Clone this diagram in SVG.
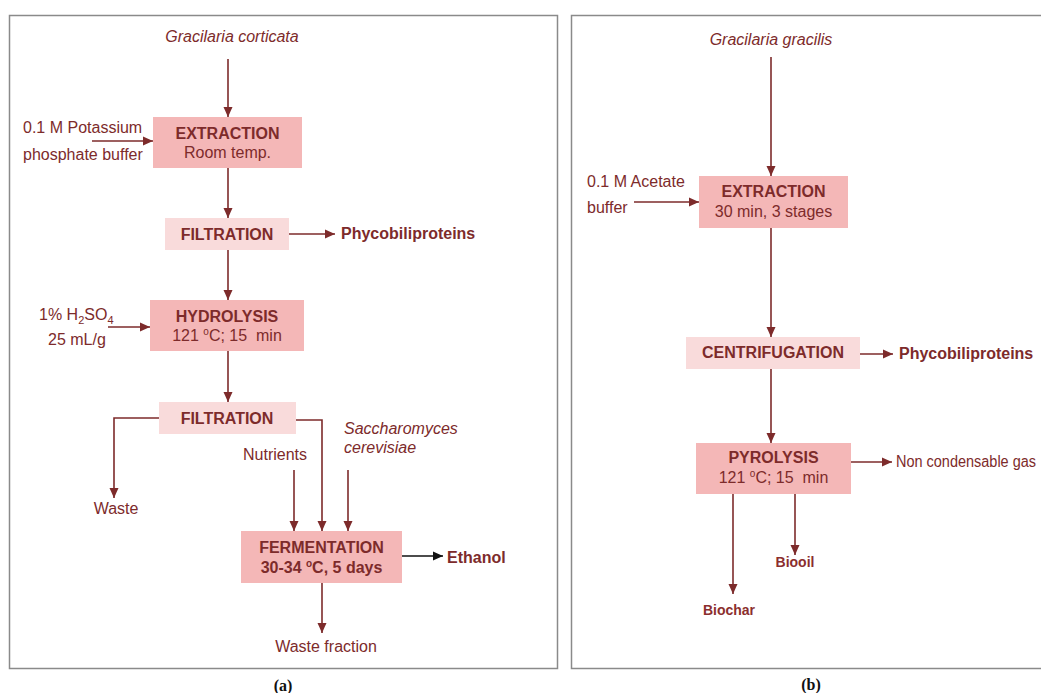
<svg xmlns="http://www.w3.org/2000/svg" width="1041" height="693" viewBox="0 0 1041 693">
<style>
.frame{fill:none;stroke:#8a8a8a;stroke-width:1.5}
.b1{fill:#f4b7b7}
.b2{fill:#f9dbdb}
.t{font-family:"Liberation Sans",Arial,sans-serif;font-size:16px;fill:#7d2b2b}
.bd{font-weight:bold}
.it{font-style:italic}
.c{text-anchor:middle}
.ln{fill:none;stroke:#7d2b2b;stroke-width:1.6}
.lk{fill:none;stroke:#111;stroke-width:1.6}
.cap{font-family:"Liberation Serif","Times New Roman",serif;font-size:16px;font-weight:bold;fill:#111;text-anchor:middle}
.cal{font-family:"Liberation Sans",Arial,sans-serif;font-size:14px;font-weight:bold;fill:#8b2e2e;text-anchor:middle}
</style>
<defs>
<marker id="ah" markerUnits="userSpaceOnUse" markerWidth="11" markerHeight="10" refX="10" refY="5" orient="auto">
<path d="M0,0.5 L10,5 L0,9.5 z" fill="#7d2b2b"/>
</marker>
<marker id="ak" markerUnits="userSpaceOnUse" markerWidth="11" markerHeight="10" refX="10" refY="5" orient="auto">
<path d="M0,0.5 L10,5 L0,9.5 z" fill="#111"/>
</marker>
</defs>
<rect width="1041" height="693" fill="#fff"/>
<rect class="frame" x="9.5" y="15.5" width="548" height="653"/>
<path class="frame" d="M1045,15.5 H571.5 V668.5 H1045"/>
<text class="cap" x="283" y="691">(a)</text>
<text class="cap" x="811" y="690">(b)</text>

<g id="connectors">
<path class="ln" d="M228,59 V117" marker-end="url(#ah)"/>
<path class="ln" d="M92,141 H153" marker-end="url(#ah)"/>
<path class="ln" d="M228,168 V218" marker-end="url(#ah)"/>
<path class="ln" d="M289,234 H335" marker-end="url(#ah)"/>
<path class="ln" d="M228,250 V300" marker-end="url(#ah)"/>
<path class="ln" d="M108,327 H150" marker-end="url(#ah)"/>
<path class="ln" d="M228,351 V402" marker-end="url(#ah)"/>
<path class="ln" d="M159,418 H114 V498" marker-end="url(#ah)"/>
<path class="ln" d="M296,420 H322 V531" marker-end="url(#ah)"/>
<path class="ln" d="M294,470 V531" marker-end="url(#ah)"/>
<path class="ln" d="M348,470 V531" marker-end="url(#ah)"/>
<path class="lk" d="M402,556 H443" marker-end="url(#ak)"/>
<path class="ln" d="M322,583 V633" marker-end="url(#ah)"/>
<path class="ln" d="M771,57 V176" marker-end="url(#ah)"/>
<path class="ln" d="M634,202 H699" marker-end="url(#ah)"/>
<path class="ln" d="M771,228 V337" marker-end="url(#ah)"/>
<path class="ln" d="M860,354 H893" marker-end="url(#ah)"/>
<path class="ln" d="M771,369 V443" marker-end="url(#ah)"/>
<path class="ln" d="M851,462 H892" marker-end="url(#ah)"/>
<path class="ln" d="M795,494 V555" marker-end="url(#ah)"/>
<path class="ln" d="M733,494 V594" marker-end="url(#ah)"/>
</g>

<g id="src-a"><text class="t it" x="232" y="42" text-anchor="middle">Gracilaria corticata</text></g>
<g id="buffer-a"><text class="t" x="23" y="133">0.1 M Potassium</text><text class="t" x="23" y="160">phosphate buffer</text></g>
<g id="extraction-a"><rect class="b1" x="153" y="117" width="149" height="51"/><text class="t bd c" x="227.5" y="139">EXTRACTION</text><text class="t c" x="227.5" y="158">Room temp.</text></g>
<g id="filtration-a1"><rect class="b2" x="165" y="218" width="124" height="32"/><text class="t bd c" x="227" y="240">FILTRATION</text></g>
<g id="phyco-a"><text class="t bd" x="341" y="239">Phycobiliproteins</text></g>
<g id="acid"><text class="t" x="39" y="320">1% H<tspan font-size="11" dy="4">2</tspan><tspan dy="-4">SO</tspan><tspan font-size="11" dy="4">4</tspan></text><text class="t" x="48" y="345">25 mL/g</text></g>
<g id="hydrolysis"><rect class="b1" x="150" y="300" width="154" height="51"/><text class="t bd c" x="227" y="322">HYDROLYSIS</text><text class="t c" x="227" y="341" xml:space="preserve">121 <tspan font-size="10" dy="-6">o</tspan><tspan dy="6">C; 15  min</tspan></text></g>
<g id="filtration-a2"><rect class="b2" x="159" y="402" width="137" height="32"/><text class="t bd c" x="227" y="424">FILTRATION</text></g>
<g id="waste"><text class="t c" x="116" y="514">Waste</text></g>
<g id="nutrients"><text class="t" x="243" y="460">Nutrients</text></g>
<g id="yeast"><text class="t it" x="344" y="434" font-size="15">Saccharomyces</text><text class="t it" x="344" y="453" font-size="15">cerevisiae</text></g>
<g id="fermentation"><rect class="b1" x="241" y="531" width="161" height="52"/><text class="t bd c" x="321.5" y="553">FERMENTATION</text><text class="t bd c" x="321.5" y="573">30-34 <tspan font-size="10" dy="-6">o</tspan><tspan dy="6">C, 5 days</tspan></text></g>
<g id="ethanol"><text class="t bd" x="447" y="563" font-size="17.5">Ethanol</text></g>
<g id="waste-fraction"><text class="t c" x="326" y="652">Waste fraction</text></g>

<g id="src-b"><text class="t it c" x="771" y="45">Gracilaria gracilis</text></g>
<g id="buffer-b"><text class="t" x="587" y="187">0.1 M Acetate</text><text class="t" x="587" y="213">buffer</text></g>
<g id="extraction-b"><rect class="b1" x="699" y="176" width="149" height="52"/><text class="t bd c" x="773.5" y="197">EXTRACTION</text><text class="t c" x="773.5" y="217">30 min, 3 stages</text></g>
<g id="centrifugation"><rect class="b2" x="686" y="337" width="174" height="32"/><text class="t bd c" x="773" y="358">CENTRIFUGATION</text></g>
<g id="phyco-b"><text class="t bd" x="899" y="359">Phycobiliproteins</text></g>
<g id="pyrolysis"><rect class="b1" x="696" y="443" width="155" height="51"/><text class="t bd c" x="773.5" y="463">PYROLYSIS</text><text class="t c" x="773.5" y="483" xml:space="preserve">121 <tspan font-size="10" dy="-6">o</tspan><tspan dy="6">C; 15  min</tspan></text></g>
<g id="gas"><text class="t" x="896" y="467" font-size="13.5" textLength="140" lengthAdjust="spacingAndGlyphs">Non condensable gas</text></g>
<g id="biooil"><text class="cal" x="795" y="567">Biooil</text></g>
<g id="biochar"><text class="cal" x="729" y="615">Biochar</text></g>
</svg>
